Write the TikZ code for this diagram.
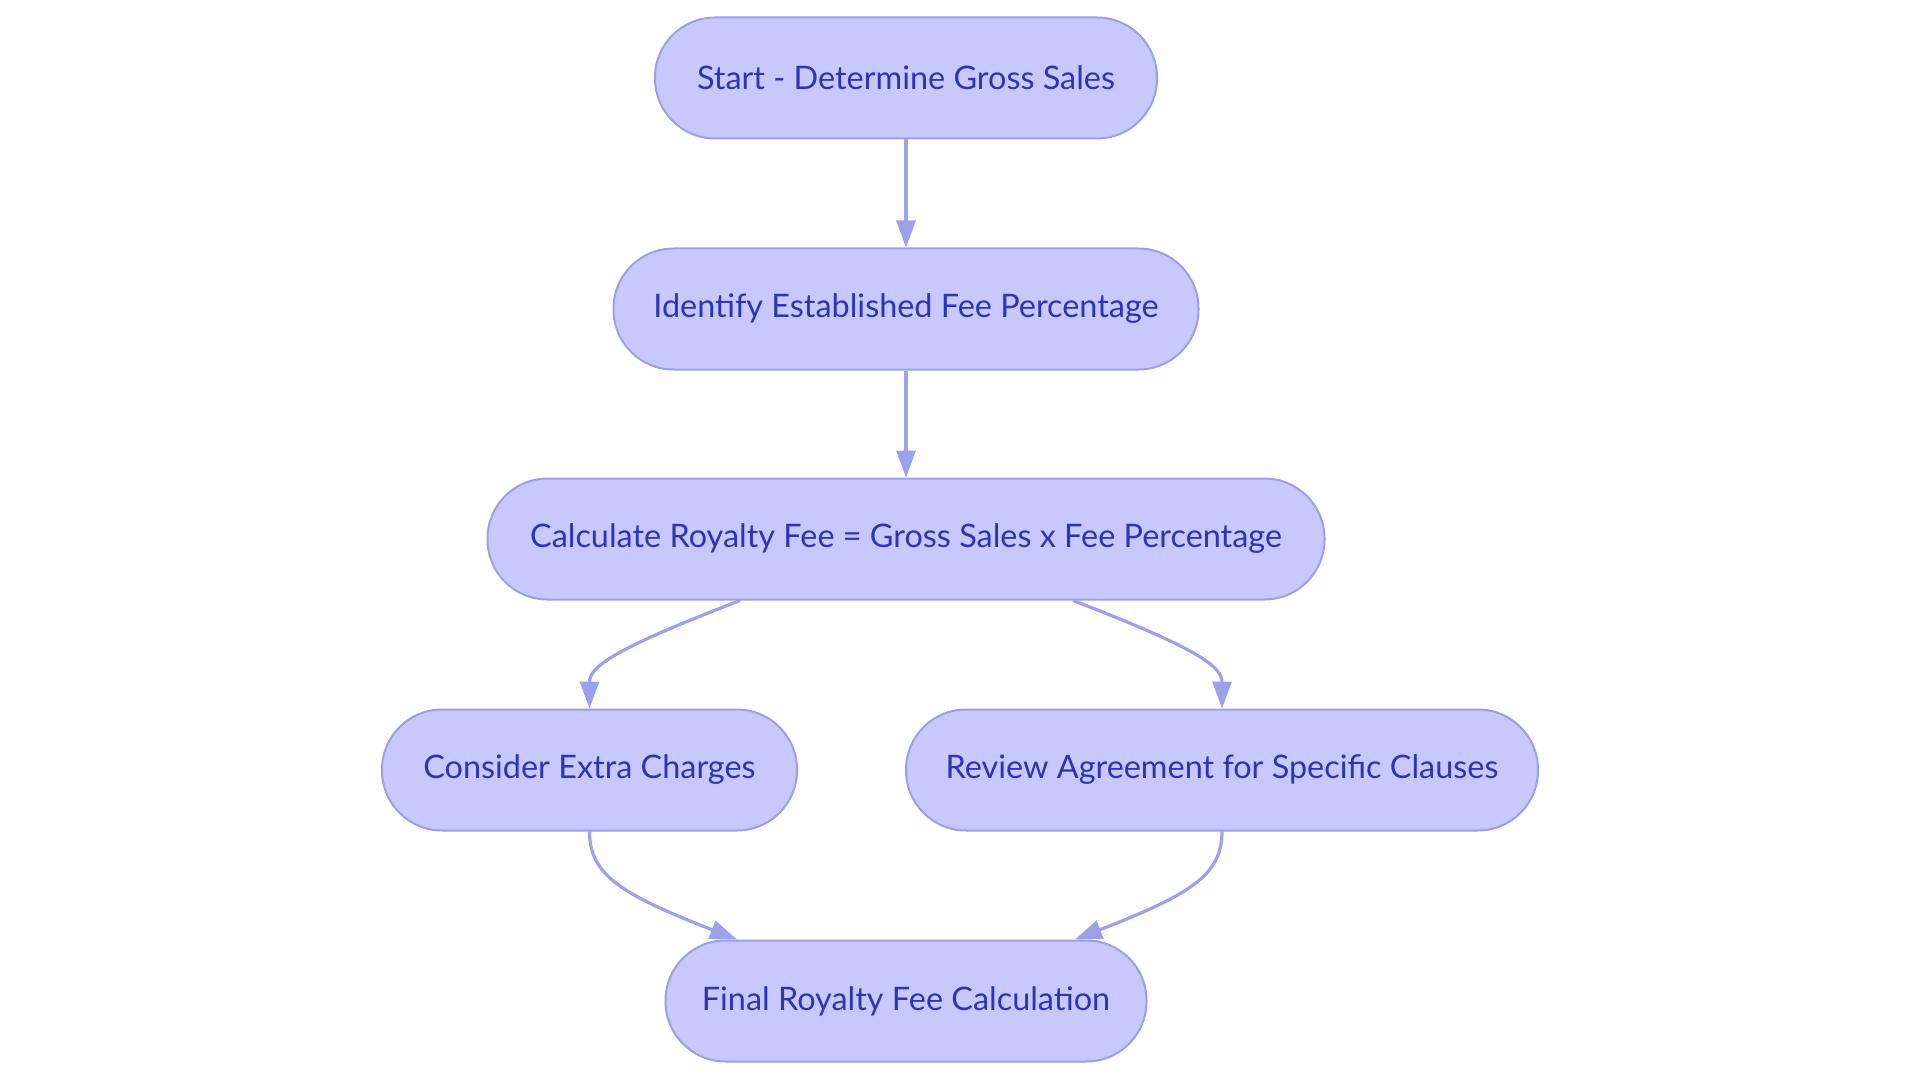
\documentclass[tikz,border=0pt]{standalone}
\usepackage{fontspec}
\setmainfont{Lato}
\usetikzlibrary{arrows.meta}
\definecolor{nodefill}{HTML}{C7C9FE}
\definecolor{nodeborder}{HTML}{9B9FE6}
\definecolor{nodetext}{HTML}{2F33B5}
\definecolor{edgecol}{HTML}{9DA1EC}
\tikzset{
  stadium/.style={draw=nodeborder, fill=nodefill, line width=2pt, rounded corners=60pt,
    minimum height=121pt, inner sep=0pt, text=nodetext,
    font=\fontsize{32.4}{38}\selectfont},
  flow/.style={draw=edgecol, line width=3.2pt, -{Triangle[length=27pt,width=19pt]}}
}
\begin{document}
\begin{tikzpicture}[x=1pt,y=-1pt]
\useasboundingbox (0,0) rectangle (1920,1083);
\node[stadium, minimum width=502pt] (n1) at (906,78) {Start - Determine Gross Sales};
\node[stadium, minimum width=585pt] (n2) at (906,309) {Identify Established Fee Percentage};
\node[stadium, minimum width=837pt] (n3) at (906,539) {Calculate Royalty Fee = Gross Sales x Fee Percentage};
\node[stadium, minimum width=415pt] (n4) at (589.5,770) {Consider Extra Charges};
\node[stadium, minimum width=632pt] (n5) at (1222,770) {Review Agreement for Specific Clauses};
\node[stadium, minimum width=481pt] (n6) at (906,1001) {Final Royalty Fee Calculation};
\draw[flow] (n1.south) -- (n2.north);
\draw[flow] (n2.south) -- (n3.north);
\draw[flow] ([xshift=-166pt]n3.south) .. controls ++(-125,48) and ++(0,-42) .. (n4.north);
\draw[flow] ([xshift=167pt]n3.south) .. controls ++(125,48) and ++(0,-42) .. (n5.north);
\draw[flow] (n4.south) .. controls ++(0,44) and ++(-115,-45) .. ([xshift=-169pt]n6.north);
\draw[flow] (n5.south) .. controls ++(0,44) and ++(115,-45) .. ([xshift=169pt]n6.north);
\end{tikzpicture}
\end{document}
